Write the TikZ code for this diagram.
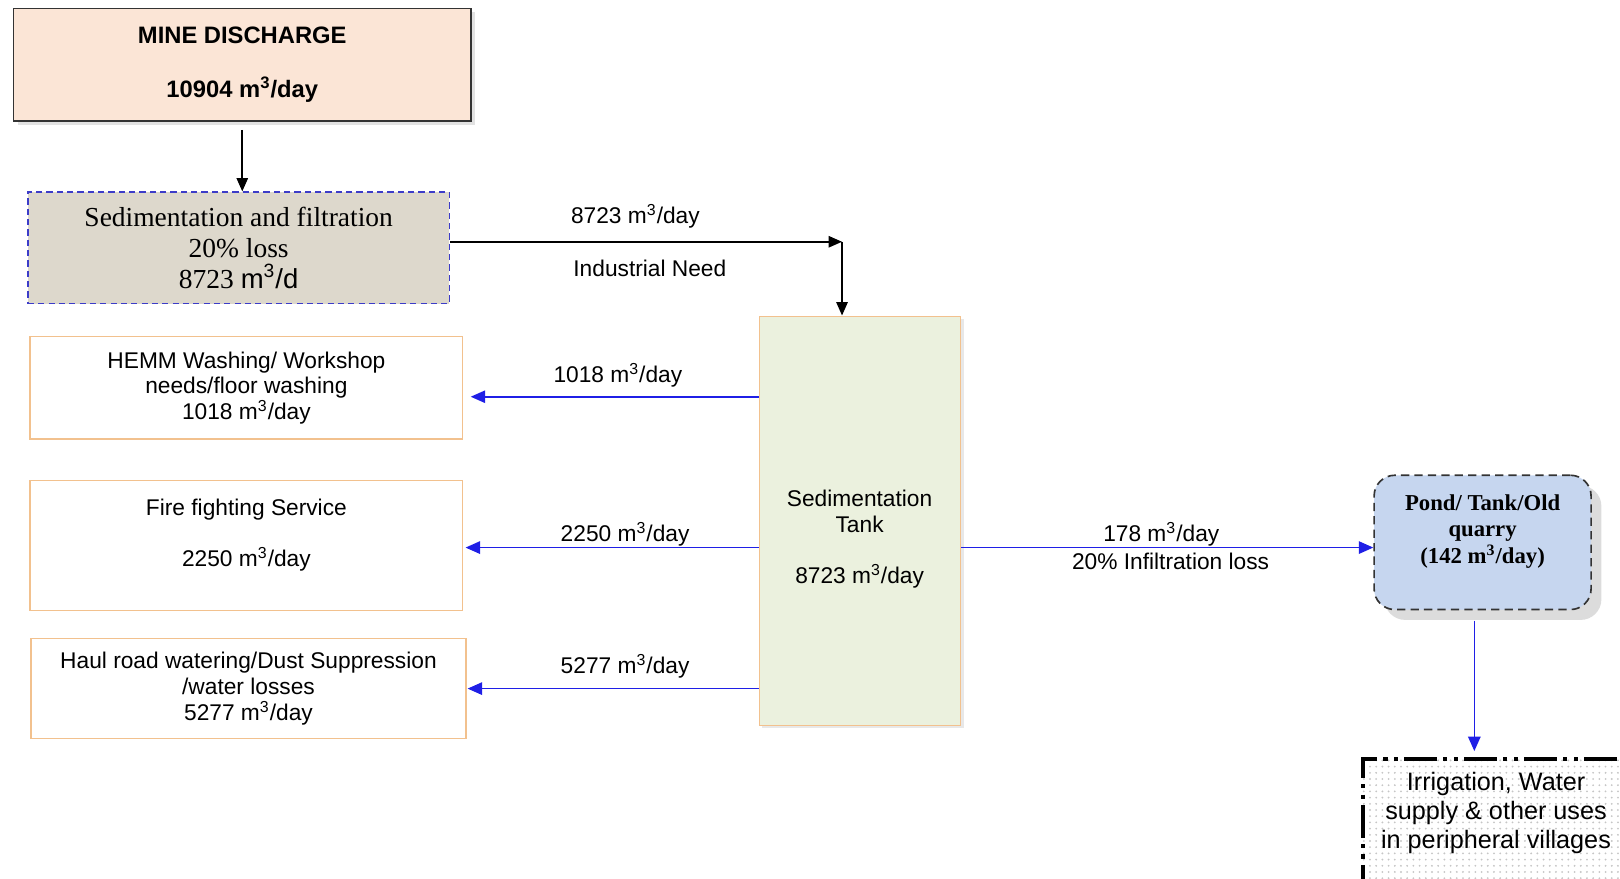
\documentclass[tikz,border=0pt]{standalone}
\usepackage{fontspec}
\setmainfont{Liberation Sans}
\newfontfamily\timesfont{Liberation Serif}
\usetikzlibrary{arrows.meta,shadows,patterns}

\definecolor{peach}{HTML}{FBE5D6}
\definecolor{sand}{HTML}{DDD8CC}
\definecolor{tankgreen}{HTML}{EBF1DE}
\definecolor{tanline}{HTML}{F2C18E}
\definecolor{pondblue}{HTML}{C6D6EF}
\definecolor{flowblue}{HTML}{1F1FE6}
\definecolor{dashblue}{HTML}{3C3CC8}

\newcommand{\cum}{m\textsuperscript{3}/day}

\begin{document}
\begin{tikzpicture}
  [x=0.5pt,y=-0.5pt,
   every node/.style={align=center,inner sep=0pt,font=\fontsize{11}{12.5}\selectfont},
   box/.style={draw=tanline,fill=white,line width=0.6pt},
   minebox/.style={draw=black!80,fill=peach,line width=0.7pt,
     drop shadow={shadow xshift=2pt,shadow yshift=-2pt,fill=gray!45},
     font=\bfseries\fontsize{11.5}{13}\selectfont},
   filterbox/.style={draw=dashblue,fill=sand,line width=0.7pt,dash pattern=on 3pt off 2pt,
     font=\timesfont\fontsize{13.3}{15}\selectfont},
   tankbox/.style={draw=tanline,fill=tankgreen,line width=0.6pt,
     drop shadow={shadow xshift=1.5pt,shadow yshift=-1.5pt,fill=gray!35}},
   pondbox/.style={draw=black!80,fill=pondblue,line width=0.8pt,dash pattern=on 4pt off 2.5pt,
     rounded corners=10pt,
     drop shadow={shadow xshift=5pt,shadow yshift=-5pt,fill=gray!55},
     font=\timesfont\bfseries\fontsize{11}{13}\selectfont},
   irrigbox/.style={draw=black,line width=2pt,pattern=dots,pattern color=gray!45,
     dash pattern=on 16pt off 3pt on 2pt off 3pt on 2pt off 3pt},
   blackflow/.style={-{Triangle[length=6.5pt,width=5.5pt]},draw=black,line width=0.8pt},
   flow/.style={-{Triangle[length=7pt,width=6pt]},draw=flowblue,line width=0.8pt}]

  \useasboundingbox (0,0) rectangle (1568,850);
  \clip (0,0) rectangle (1568,850);

  \node[minebox,minimum width=221.5pt,minimum height=54.5pt] (mine) at (234.5,62.5)
    {MINE DISCHARGE\\[13pt]10904 \cum};
  \node[filterbox,minimum width=204pt,minimum height=54pt] (filter) at (231,240)
    {Sedimentation and filtration\\20\% loss\\8723 {\normalfont m\textsuperscript{3}/d}};

  \node[box,minimum width=209.5pt,minimum height=49.5pt] (hemm) at (238.5,375.5)
    {HEMM Washing/ Workshop\\needs/floor washing\\1018 \cum};
  \node[box,minimum width=209.5pt,minimum height=63pt] (fire) at (238.5,528)
    {Fire fighting Service\\[12.5pt]2250 \cum\\\mbox{}};
  \node[box,minimum width=210.5pt,minimum height=48.5pt] (haul) at (240.5,666.5)
    {Haul road watering/Dust Suppression\\/water losses\\5277 \cum};

  \node[tankbox,minimum width=97.5pt,minimum height=198pt] (tank) at (832.5,504) {};
  \node (tanktext) at (832,522) {Sedimentation\\Tank\\[12.5pt]8723 \cum};

  \node[pondbox,minimum width=105pt,minimum height=65pt] (pond) at (1435,525)
    {Pond/ Tank/Old\\quarry\\(142 m\textsuperscript{3}/day)\\\mbox{}};

  \node[irrigbox,anchor=north west,minimum width=200pt,minimum height=100pt] (irrig) at (1317,733) {};
  \node[font=\fontsize{12.2}{14.2}\selectfont] (irrigtext) at (1448,787)
    {Irrigation, Water\\supply \& other uses\\in peripheral villages};

  % flows
  \draw[blackflow,shorten <=4pt] (mine.south) -- (mine.south |- filter.north);
  \coordinate (bend) at (815,234);
  \draw[blackflow] (filter.east |- bend) -- (bend);
  \draw[blackflow] (bend) -- (bend |- tank.north);
  \node (indflow) at (615,209) {8723 \cum};
  \node (indneed) at (629,260) {Industrial Need};

  \coordinate (hemmin) at ([yshift=-4.25pt]hemm.east);
  \coordinate (firein) at ([yshift=-1pt]fire.east);
  \coordinate (haulin) at (haul.east);
  \foreach \dest/\gap in {hemmin/3.5pt,firein/1pt,haulin/0.5pt}
    \draw[flow,shorten >=\gap] (\dest -| tank.west) -- (\dest);
  \node (hemmflow) at (598,363) {1018 \cum};
  \node (fireflow) at (605,517) {2250 \cum};
  \node (haulflow) at (605,645) {5277 \cum};

  \coordinate (pondin) at ([yshift=-2.5pt]pond.west);
  \draw[flow] (pondin -| tank.east) -- (pondin);
  \node (pondflow) at (1124,517) {178 \cum};
  \node (pondloss) at (1133,543) {20\% Infiltration loss};

  \coordinate (pondout) at ([xshift=-4pt]pond.south);
  \draw[flow,shorten <=5pt,shorten >=3pt] (pondout) -- (pondout |- irrig.north);
\end{tikzpicture}
\end{document}
